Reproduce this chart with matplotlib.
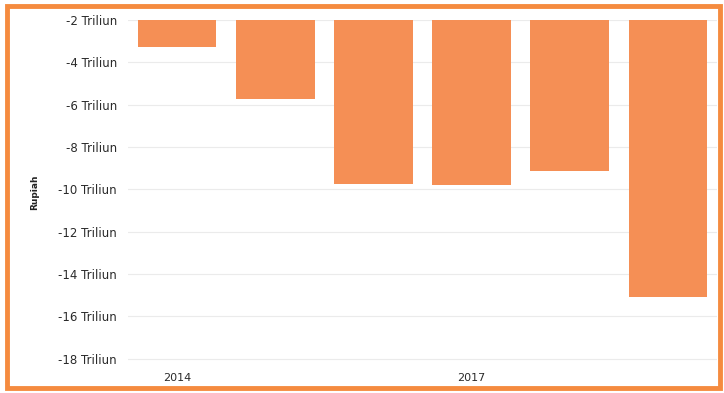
import matplotlib
matplotlib.use("Agg")
import matplotlib.pyplot as plt
from matplotlib.patches import Rectangle

years = ["2014", "2015", "2016", "2017", "2018", "2019"]
values = [-3.27, -5.73, -9.74, -9.78, -9.12, -15.07]  # Triliun Rupiah
yticks = [-2, -4, -6, -8, -10, -12, -14, -16, -18]
ytick_labels = [f"{t} Triliun" for t in yticks]
shown_xticks = {"2014", "2017"}

fig = plt.figure(figsize=(7.24, 3.93), dpi=100)
fig.patch.set_facecolor("white")
fig.patches.append(Rectangle((0.010, 0.012), 0.985, 0.973, transform=fig.transFigure,
                             fill=False, edgecolor="#F58B3F", linewidth=3.5))

ax = fig.add_axes([128 / 724, 1 - 365 / 393, (717 - 128) / 724, (365 - 20) / 393])
x = list(range(len(years)))
ax.bar(x, values, width=0.8, color="#F58F55", zorder=2)
ax.set_xlim(-0.5, len(years) - 0.5)
ax.set_ylim(-18.3, -2)
ax.set_yticks(yticks)
ax.set_yticklabels(ytick_labels, fontsize=8.5, color="#2a2a2a", fontweight="medium")
ax.set_xticks(x)
ax.set_xticklabels([y if y in shown_xticks else "" for y in years], fontsize=8,
                   color="#2a2a2a", fontweight="medium")
ax.tick_params(axis="y", length=0, pad=8)
ax.tick_params(axis="x", length=0, pad=6)
ax.grid(axis="y", color="#ebebeb", linewidth=0.8, zorder=0)
for s in ax.spines.values():
    s.set_visible(False)
ax.set_ylabel("Rupiah", fontsize=6.5, fontweight="bold", color="#222222", labelpad=14)

fig.savefig("out.png", dpi=100)
